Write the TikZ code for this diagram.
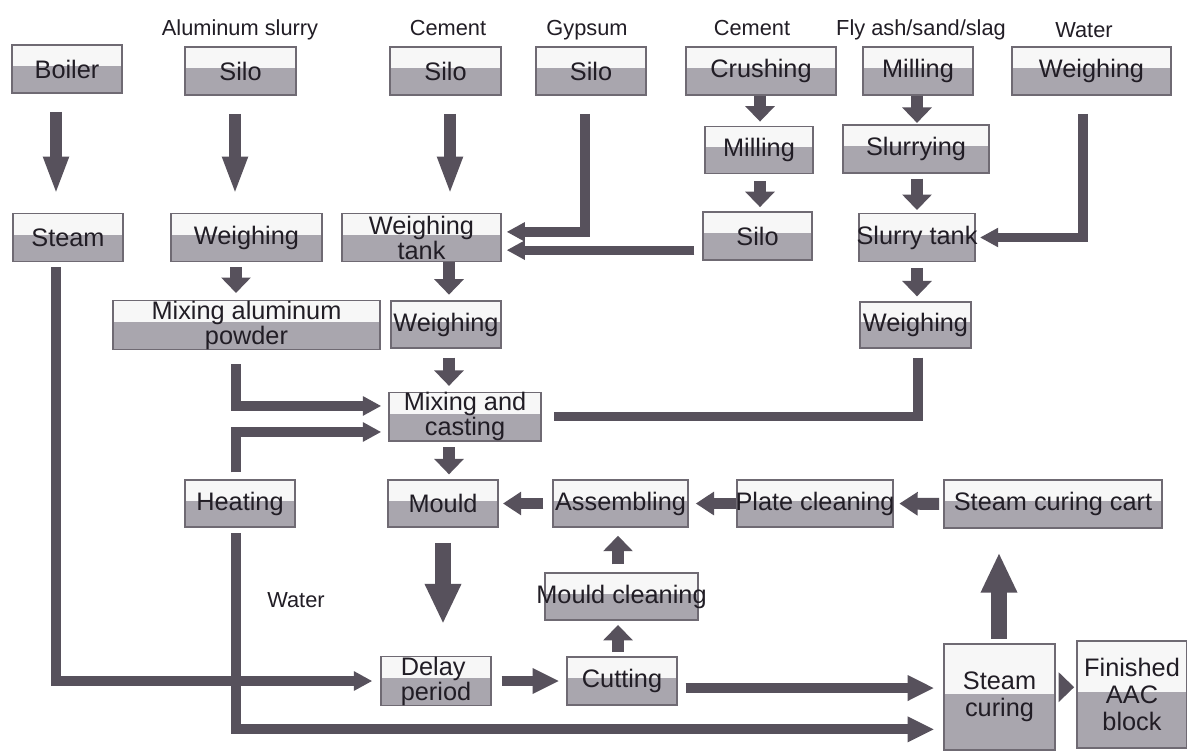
\documentclass[tikz,border=0pt]{standalone}
\usepackage{fontspec}
\setmainfont{Liberation Sans}
\usepackage{tikz}
\usetikzlibrary{arrows.meta}
\definecolor{flowc}{HTML}{57515C}
\definecolor{lowc}{HTML}{A9A6AE}
\definecolor{highc}{HTML}{F7F7F7}
\definecolor{edgec}{HTML}{6F6A73}
\definecolor{txtc}{HTML}{211D25}
\newcommand{\boxfont}{\fontsize{18}{16}\selectfont}
\newcommand{\tallfont}{\fontsize{18}{19}\selectfont}
\newcommand{\labfont}{\fontsize{15.5}{17}\selectfont}
\tikzset{
  blk/.style={draw=edgec, line width=1pt, fill=highc, text=txtc, font=\boxfont,
    align=center, inner sep=0pt, minimum height=34.1pt,
    path picture={\fill[lowc] (path picture bounding box.south west)
      rectangle ([yshift=2pt]path picture bounding box.east);}},
  wd/.style={minimum width=#1*0.7113pt},
  ht/.style={minimum height=#1*0.7113pt},
  lab/.style={text=txtc, font=\labfont, inner sep=0pt, anchor=base},
  flow/.style={draw=flowc, line width=8.5pt, -{Triangle[width=16.5pt,length=27pt]}},
  flowshort/.style={draw=flowc, line width=8.5pt, -{Triangle[width=20.5pt,length=11pt]}},
  flowside/.style={draw=flowc, line width=8.5pt, -{Triangle[width=16pt,length=13pt]}},
  flowbig/.style={draw=flowc, line width=10.7pt, -{Triangle[width=24pt,length=28.5pt]}},
  flowmid/.style={draw=flowc, line width=7pt, -{Triangle[width=17pt,length=19pt]}},
  feed/.style={draw=flowc, line width=6.6pt, -{Triangle[width=13pt,length=13pt]}},
  pipe/.style={draw=flowc, line width=6.6pt}
}
\begin{document}
\begin{tikzpicture}[x=0.025cm, y=-0.025cm]
         \fill[white] (0,0) rectangle (1187,751);
         \useasboundingbox (0,0) rectangle (1187,751);
         \node[lab] (alname) at (240,35) {Aluminum slurry};
         \node[lab] (cname) at (448,35) {Cement};
         \node[lab] (gname) at (587,35) {Gypsum};
         \node[lab] (cname2) at (752,35) {Cement};
         \node[lab] (fname) at (921,35) {Fly ash/sand/slag};
         \node[lab] (wname) at (1084,37) {Water};
         \node[lab] (wname2) at (296,607) {Water};
         \node[blk, wd=110] (boiler) at (67,69) {Boiler};
         \node[blk, wd=111] (alsilo) at (240.5,71) {Silo};
         \node[blk, wd=111] (csilo) at (445.5,71) {Silo};
         \node[blk, wd=110] (gsilo) at (591,71) {Silo};
         \node[blk, wd=150] (crush) at (761,71) {Crushing};
         \node[blk, wd=110] (fmill) at (918,71) {Milling};
         \node[blk, wd=159] (wweigh) at (1091.5,71) {Weighing};
         \node[blk, wd=108, ht=47] (cmill) at (759,150) {Milling};
         \node[blk, wd=146] (slurry) at (916,149) {Slurrying};
         \node[blk, wd=110] (steam) at (68,237.5) {Steam};
         \node[blk, wd=151] (alweigh) at (246.5,237.5) {Weighing};
         \node[blk, wd=159] (wtank) at (421.5,237.5) {Weighing\\tank};
         \node[blk, wd=109] (csilo2) at (757.5,236) {Silo};
         \node[blk, wd=116] (stank) at (917,237.5) {\makebox[0pt]{Slurry tank}};
         \node[blk, wd=267, ht=46] (almix) at (246.5,325) {Mixing aluminum\\powder};
         \node[blk, wd=110, ht=47] (cweigh) at (446,324.5) {Weighing};
         \node[blk, wd=111, ht=46] (sweigh) at (915.5,325) {Weighing};
         \node[blk, wd=152, ht=47] (mixcast) at (465,416.5) {Mixing and\\casting};
         \node[blk, wd=110, ht=47] (heating) at (240,503.5) {Heating};
         \node[blk, wd=110, ht=47] (mould) at (443,503.5) {Mould};
         \node[blk, wd=135, ht=47] (assem) at (620.5,503.5) {Assembling};
         \node[blk, wd=156, ht=47] (plate) at (815,503.5) {\makebox[0pt]{Plate cleaning}};
         \node[blk, wd=218] (cart) at (1053,504) {Steam curing cart};
         \node[blk, wd=153, ht=47] (mclean) at (621.5,596.5) {\makebox[0pt]{Mould cleaning}};
         \node[blk, wd=110, align=left] (delay) at (436,681) {Delay\\period};
         \node[blk, wd=110] (cutting) at (622,681) {Cutting};
         \node[blk, wd=111, ht=106, font=\tallfont] (scure) at (999.5,697) {Steam\\curing};
         \node[blk, wd=110, ht=107, font=\tallfont] (finished) at (1132,694.5) {Finished\\AAC\\block};
         \coordinate (tankin1) at ([yshift=4pt]wtank.east);
         \coordinate (tankin2) at ([yshift=-9pt]wtank.east);
         \coordinate (mixin1) at ([yshift=7.5pt]mixcast.west);
         \coordinate (mixin2) at ([yshift=-11pt]mixcast.west);
         \coordinate (cutout) at ([yshift=-5pt]cutting.east);
         \coordinate (doneout) at ([yshift=7pt]scure.east);
         \coordinate (curein) at ([yshift=-23pt]scure.west);
         \draw[flow, shorten <=13pt, shorten >=13pt] (56,0 |- boiler.south) -- (56,0 |- steam.north);
         \draw[flow, shorten <=13pt, shorten >=13pt] (235,0 |- alsilo.south) -- (235,0 |- alweigh.north);
         \draw[flow, shorten <=13pt, shorten >=13pt] (450,0 |- csilo.south) -- (450,0 |- wtank.north);
         \draw[feed, shorten <=13pt, shorten >=3.5pt] (585,0 |- gsilo.south) |- (tankin1);
         \draw[feed, shorten <=5.7pt, shorten >=3.5pt] (tankin2 -| csilo2.west) -- (tankin2);
         \draw[flowshort, shorten >=3pt] (760,0 |- crush.south) -- (760,0 |- cmill.north);
         \draw[flowshort, shorten <=5pt, shorten >=3pt] (760,0 |- cmill.south) -- (760,0 |- csilo2.north);
         \draw[flowshort, shorten >=1pt] (917,0 |- fmill.south) -- (917,0 |- slurry.north);
         \draw[flowshort, shorten <=3.5pt, shorten >=2pt] (917,0 |- slurry.south) -- (917,0 |- stank.north);
         \draw[feed, shorten <=13pt, shorten >=3pt] (1083,0 |- wweigh.south) |- (stank.east);
         \draw[flowshort, shorten <=4pt, shorten >=3.5pt] (917,0 |- stank.south) -- (917,0 |- sweigh.north);
         \draw[flowshort, shorten >=4pt] (449,0 |- wtank.south) -- (449,0 |- cweigh.north);
         \draw[flowshort, shorten <=3.5pt, shorten >=5pt] (236,0 |- alweigh.south) -- (236,0 |- almix.north);
         \draw[flowshort, shorten <=6.4pt, shorten >=4pt] (449,0 |- cweigh.south) -- (449,0 |- mixcast.north);
         \draw[feed, shorten <=10pt, shorten >=5pt] (236,0 |- almix.south) |- (mixin1);
         \draw[feed, shorten <=5pt, shorten >=5pt] (236,0 |- heating.north) |- (mixin2);
         \draw[pipe, shorten <=6.4pt, shorten >=8.5pt] (918,0 |- sweigh.south) |- (mixcast.east);
         \draw[flowshort, shorten <=4pt, shorten >=3.5pt] (449,0 |- mixcast.south) -- (449,0 |- mould.north);
         \draw[flowbig, shorten <=10.7pt, shorten >=22.8pt] (443,0 |- mould.south) -- (443,0 |- delay.north);
         \draw[flowside, shorten <=6.4pt, shorten >=3pt] (assem.west) -- (mould.east);
         \draw[flowside, shorten >=5pt] (plate.west) -- (assem.east);
         \draw[flowside, shorten <=3pt, shorten >=4pt] (cart.west) -- (plate.east);
         \draw[flowshort, shorten <=5.7pt, shorten >=5.7pt] (618,0 |- mclean.north) -- (618,0 |- assem.south);
         \draw[flowshort, shorten <=3pt, shorten >=3pt] (618,0 |- cutting.north) -- (618,0 |- mclean.south);
         \draw[flowmid, shorten <=7pt, shorten >=5pt] (delay.east) -- (cutting.west);
         \draw[flowmid, shorten <=5.7pt, shorten >=6.4pt] (cutout) -- (cutout -| scure.west);
         \draw[flowshort, shorten <=3pt, shorten >=1.5pt] (doneout) -- (doneout -| finished.west);
         \draw[flowbig, shorten <=3pt, shorten >=17pt] (999,0 |- scure.north) -- (999,0 |- cart.south);
         \draw[feed, shorten <=3.5pt, shorten >=5.7pt] (56,0 |- steam.south) |- (delay.west);
         \draw[flowmid, shorten <=4pt, shorten >=6.4pt] (236,0 |- heating.south) |- (curein);
\end{tikzpicture}
\end{document}
